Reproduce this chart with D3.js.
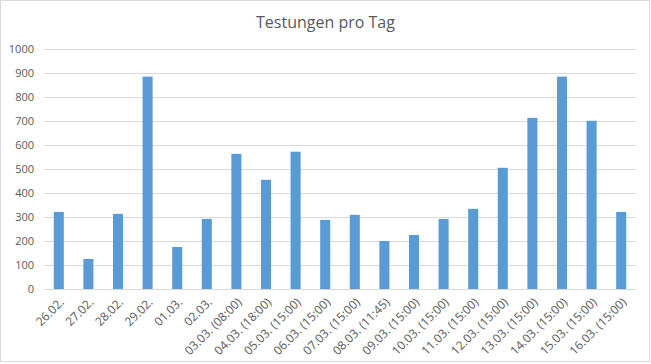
<!DOCTYPE html>
<html>
<head>
<meta charset="utf-8">
<script src="https://cdn.jsdelivr.net/npm/d3@7"></script>
<style>
	body { margin: 0; background: #fff; }
	text { font-family: "Open Sans", "Liberation Sans", sans-serif; fill: #595959; }
</style>
</head>
<body>
<div id="vis"></div>
<script>

var days = ["26.02.", "27.02.", "28.02.", "29.02.", "01.03.", "02.03.",
	"03.03. (08:00)", "04.03. (18:00)", "05.03. (15:00)", "06.03. (15:00)",
	"07.03. (15:00)", "08.03. (11:45)", "09.03. (15:00)", "10.03. (15:00)",
	"11.03. (15:00)", "12.03. (15:00)", "13.03. (15:00)", "14.03. (15:00)",
	"15.03. (15:00)", "16.03. (15:00)"];

var tests = [321, 125, 313, 885, 175, 292, 563, 455, 572, 288,
	309, 200, 225, 292, 334, 505, 713, 885, 701, 321];

var yTicks = [0, 100, 200, 300, 400, 500, 600, 700, 800, 900, 1000];

var title = "Testungen pro Tag";

var width = 651, height = 364;
var margin = {top: 49, right: 15, bottom: 75, left: 44};

var svg = d3.select("#vis").append("svg")
	.attr("width", width)
	.attr("height", height);

// chart frame
svg.append("rect")
	.attr("x", 0.5)
	.attr("y", 0.5)
	.attr("width", width - 2)
	.attr("height", height - 3)
	.style("fill", "#fff")
	.style("stroke", "#d9d9d9");

var xScale = d3.scaleBand()
	.domain(days)
	.range([margin.left, width - margin.right])
	.paddingInner(0.66)
	.paddingOuter(0.33);

var yScale = d3.scaleLinear()
	.domain([0, 1000])
	.range([height - margin.bottom, margin.top]);

// gridlines
svg.append("g")
	.selectAll("line")
	.data(yTicks)
	.enter()
	.append("line")
	.attr("x1", margin.left)
	.attr("x2", width - margin.right)
	.attr("y1", function (d) { return Math.round(yScale(d)) + 0.5; })
	.attr("y2", function (d) { return Math.round(yScale(d)) + 0.5; })
	.style("stroke", "#d9d9d9")
	.style("stroke-width", 1);

// y axis labels
var yAxis = d3.axisLeft(yScale)
	.tickValues(yTicks)
	.tickFormat(d3.format("d"))
	.tickSize(0)
	.tickPadding(10);

var gy = svg.append("g")
	.attr("transform", "translate(" + margin.left + ",0)")
	.call(yAxis);
gy.select(".domain").remove();
gy.selectAll("text")
	.style("font-size", "11px")
	.style("fill", "#595959");

// bars
svg.append("g")
	.selectAll("rect")
	.data(tests)
	.enter()
	.append("rect")
	.attr("x", function (d, i) { return xScale(days[i]); })
	.attr("y", function (d) { return yScale(d); })
	.attr("width", xScale.bandwidth())
	.attr("height", function (d) { return yScale(0) - yScale(d); })
	.style("fill", "#5b9bd5");

// x axis labels
var xAxis = d3.axisBottom(xScale)
	.tickSize(0)
	.tickPadding(0);

var gx = svg.append("g")
	.attr("transform", "translate(0," + yScale(0) + ")")
	.call(xAxis);
gx.select(".domain").remove();
gx.selectAll("text")
	.style("font-size", "12px")
	.style("fill", "#595959")
	.attr("text-anchor", "end")
	.attr("dy", null)
	.attr("y", 0)
	.attr("transform", "translate(6,14) rotate(-45)");

// title
svg.append("text")
	.attr("x", width / 2)
	.attr("y", 28)
	.attr("text-anchor", "middle")
	.style("font-size", "16px")
	.text(title);

</script>
</body>
</html>
